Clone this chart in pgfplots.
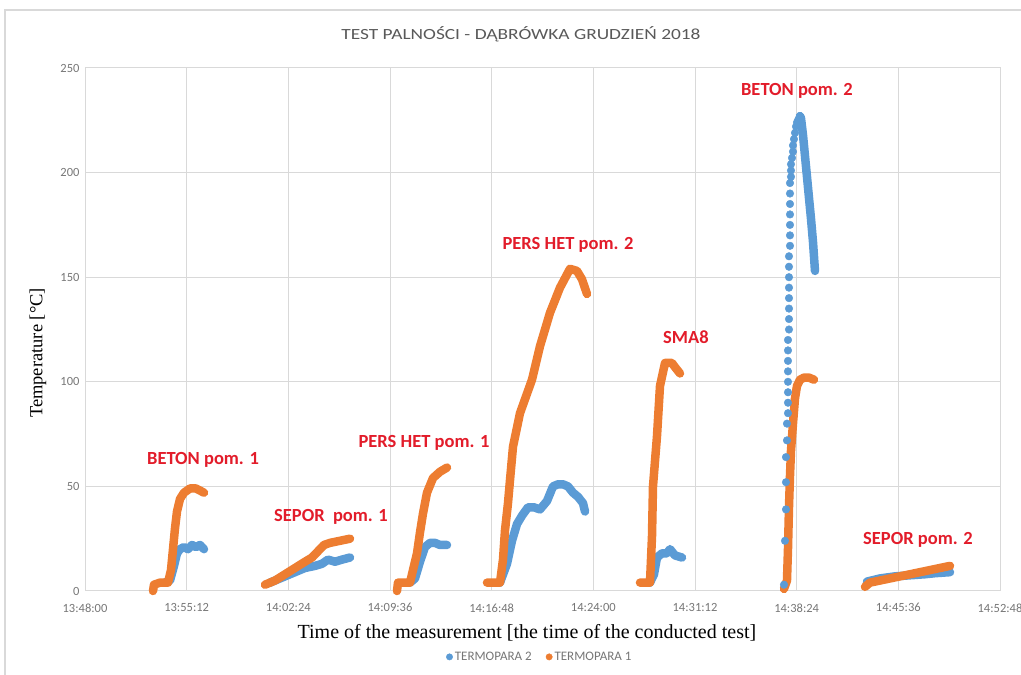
\documentclass[border=0pt]{standalone}
\usepackage{pgfplots}
\pgfplotsset{compat=1.18}
\usepackage{pgfplotstable}
\usepackage{graphicx}
\usepackage{fontspec}
\setmainfont{Liberation Serif}
\newfontfamily\carlito{Carlito}
\definecolor{blue1}{RGB}{91,155,213}
\definecolor{orange1}{RGB}{237,125,49}
\definecolor{gridgray}{RGB}{217,217,217}
\definecolor{tickgray}{RGB}{118,118,118}
\definecolor{titlegray}{RGB}{89,89,89}
\definecolor{annred}{RGB}{226,28,42}

\pgfplotstableread{
t v
5.665 4
6.020 5
6.303 12
6.515 18
6.728 20
7.011 21
7.294 20
7.578 22
7.861 21
8.144 22
8.427 20
nan nan
13.101 4
14.164 7
14.872 9
15.580 11
16.288 12
16.784 13
17.209 15
17.705 14
18.200 15
18.767 16
nan nan
23.016 4
23.370 6
23.724 14
24.078 21
24.432 23
24.786 23
25.140 22
25.636 22
nan nan
29.389 4
29.885 13
30.240 24
30.594 32
30.948 36
31.372 40
31.797 40
32.222 39
32.718 43
33.143 50
33.497 51
33.851 51
34.205 50
34.560 47
34.914 45
35.268 42
35.409 38
nan nan
40.012 4
40.296 8
40.508 16
40.862 18
41.217 18
41.429 20
41.783 17
42.279 16
nan nan
50.635 227
50.706 226
50.848 218
50.989 208
51.131 198
51.272 188
51.414 178
51.555 167
51.697 153
nan nan
55.379 4.5
56.300 6
57.363 7
58.425 7.5
59.487 8
60.195 8.5
61.258 9
}\termtwo

\pgfplotstableread{
t v
49.502 3
49.573 24
49.643 39
49.643 52
49.643 64
49.714 72
49.714 80
49.785 85
49.785 90
49.785 95
49.785 100
49.785 105
49.785 110
49.785 115
49.785 120
49.856 125
49.856 130
49.856 135
49.856 140
49.856 145
49.856 150
49.856 155
49.856 160
49.927 165
49.927 170
49.927 175
49.927 180
49.927 185
49.927 190
49.927 195
49.998 198
49.998 201
49.998 204
50.069 207
50.139 210
50.139 213
50.210 216
50.281 219
50.352 222
50.423 224
50.494 225
50.564 226
50.635 227
}\termtwodots

\pgfplotstableread{
t v
4.816 0
4.886 3
5.311 4
5.878 4
6.090 10
6.232 20
6.374 30
6.515 38
6.728 44
7.011 47
7.436 49
7.861 49
8.144 48
8.427 47
nan nan
12.747 3
13.455 5
14.164 8
14.872 11
15.580 14
16.076 16
16.501 19
16.926 22
17.350 23
18.059 24
18.767 25
nan nan
22.095 0
22.166 4
23.016 4
23.228 10
23.512 18
23.724 28
23.936 37
24.220 47
24.645 54
25.140 57
25.636 59
nan nan
28.469 4
29.389 4
29.602 15
29.744 29
29.956 42
30.098 53
30.311 69
30.806 85
31.656 101
32.222 117
32.931 133
33.639 145
34.347 154
34.843 153
35.197 149
35.551 142
nan nan
39.304 4
40.012 4
40.154 26
40.225 50
40.366 62
40.508 74
40.721 98
41.075 109
41.571 109
41.783 107
42.137 104
nan nan
49.502 1
49.714 5
49.785 20
49.856 40
49.927 55
49.998 67
50.139 80
50.281 92
50.423 98
50.635 101
50.918 102
51.272 102
51.626 101
nan nan
55.238 2
55.592 4
56.300 5
57.008 6
57.717 7
58.425 8
59.133 9
59.841 10
60.549 11
61.258 12
}\termone

\begin{document}
\begin{tikzpicture}
\path[use as bounding box] (0pt,0pt) rectangle (1021pt,675pt);
\draw[gridgray, line width=1.2pt] (5pt,0pt) -- (5pt,665pt) -- (1021pt,665pt);
\begin{axis}[
  at={(85pt,84pt)}, anchor=south west,
  scale only axis, width=915pt, height=523pt,
  xmin=0, xmax=64.8, ymin=0, ymax=250,
  clip=false,
  unbounded coords=jump,
  xtick={0,7.2,14.4,21.6,28.8,36,43.2,50.4,57.6,64.8},
  xticklabels={13:48:00,13:55:12,14:02:24,14:09:36,14:16:48,14:24:00,14:31:12,14:38:24,14:45:36,14:52:48},
  ytick={0,50,100,150,200,250},
  /pgf/number format/assume math mode=true,
  tick style={draw=none},
  grid=major,
  major grid style={gridgray, line width=1pt},
  axis line style={gridgray, line width=1pt},
  ticklabel style={font=\carlito\fontsize{12.5}{14}\selectfont, text=tickgray},
  xticklabel style={yshift=-9pt},
  yticklabel style={xshift=-2pt},
  title={\scalebox{1.25}[1]{\carlito\fontsize{15.5}{18}\selectfont TEST PALNOŚCI - DĄBRÓWKA GRUDZIEŃ 2018}},
  title style={at={(0.4765,1.0535)}, anchor=center, text=titlegray},
  xlabel={Time of the measurement [the time of the conducted test]},
  xlabel style={at={(axis description cs:0.483,-0.080)}, anchor=center, font=\fontsize{20}{22}\selectfont},
  ylabel={Temperature [°C]},
  ylabel style={at={(axis description cs:-0.0514,0.455)}, anchor=center, font=\fontsize{18.5}{20}\selectfont},
  legend style={at={(0.497,-0.126)}, anchor=center, draw=none, fill=none,
    font=\carlito\fontsize{13}{15}\selectfont, text=tickgray,
    legend columns=2, /tikz/every even column/.append style={column sep=12pt}},
  legend image code/.code={\fill[#1] (0.35cm,0cm) circle (3.2pt);},
]
\addlegendimage{blue1, fill=blue1}
\addlegendentry{TERMOPARA 2}
\addlegendimage{orange1, fill=orange1}
\addlegendentry{TERMOPARA 1}

\addplot[forget plot, blue1, line width=8.5pt, line cap=round, line join=round] table[x=t,y=v] {\termtwo};
\addplot[forget plot, blue1, only marks, mark=*, mark size=3.8pt] table[x=t,y=v] {\termtwodots};
\addplot[forget plot, orange1, line width=8.5pt, line cap=round, line join=round] table[x=t,y=v] {\termone};

\begin{scope}[every node/.style={font=\carlito\bfseries\fontsize{18.5}{20}\selectfont, text=annred}]
\node at (axis cs:8.357,62.6) {BETON pom. 1};
\node at (axis cs:17.421,35.4) {SEPOR\ \ pom. 1};
\node at (axis cs:24.007,70.7) {PERS HET pom. 1};
\node at (axis cs:34.205,165.4) {PERS HET pom. 2};
\node at (axis cs:42.562,121.4) {SMA8};
\node at (axis cs:50.422,239.0) {BETON pom. 2};
\node at (axis cs:58.991,24.4) {SEPOR pom. 2};
\end{scope}
\end{axis}
\end{tikzpicture}
\end{document}
